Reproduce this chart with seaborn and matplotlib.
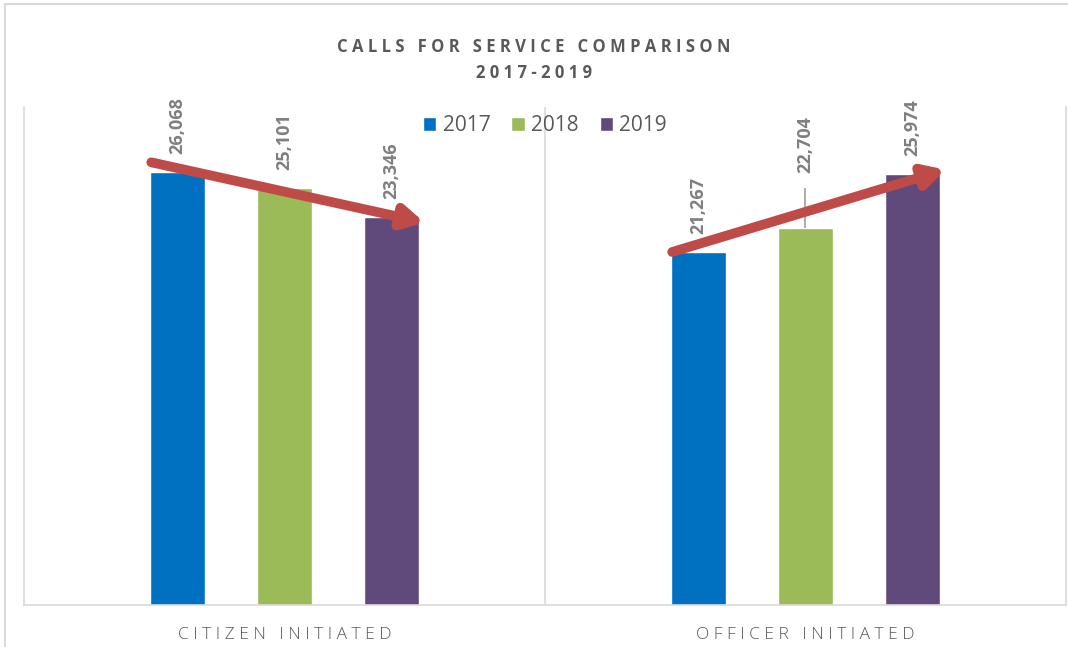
import seaborn as sns
import matplotlib.pyplot as plt
import pandas as pd

# data
categories = ["CITIZEN INITIATED", "OFFICER INITIATED"]
years = ["2017", "2018", "2019"]
calls_2017 = [26068, 21267]
calls_2018 = [25101, 22704]
calls_2019 = [23346, 25974]

colors = ["#0070C0", "#9BBB59", "#604A7B"]
grey_line = "#D9D9D9"
text_grey = "#595959"

df = pd.DataFrame({
    "category": categories * 3,
    "year": [y for y in years for _ in categories],
    "calls": calls_2017 + calls_2018 + calls_2019,
})

sns.set_theme(style="white")
plt.rcParams["font.family"] = ["Open Sans", "DejaVu Sans"]

fig = plt.figure(figsize=(10.68, 6.47), dpi=100)
ax = fig.add_axes([0.0225, 0.0649, 0.9755, 0.7697])

sns.barplot(data=df, x="category", y="calls", hue="year", palette=colors,
            width=0.616, gap=0.48, ax=ax, saturation=1, legend=True)

ax.set_ylim(0, 30000)
ax.set_xlim(-0.5, 1.5)
ax.set_yticks([])
ax.set_xlabel("")
ax.set_ylabel("")
ax.tick_params(axis="x", length=0, pad=16)
ax.set_xticks(range(len(categories)))
ax.set_xticklabels([" ".join(c.split(" ")[0]) + "   " + " ".join(c.split(" ")[1])
                    for c in categories],
                   fontsize=12.5, color=text_grey, fontweight="light")

for side in ["left", "right", "bottom"]:
    ax.spines[side].set_color(grey_line)
    ax.spines[side].set_linewidth(1.2)
ax.spines["top"].set_visible(False)
ax.axvline(0.5, color=grey_line, lw=1.2)

# value labels, rotated, above each bar
for i, cont in enumerate(ax.containers):
    for j, bar in enumerate(cont):
        val = bar.get_height()
        xc = bar.get_x() + bar.get_width() / 2
        off = 13
        if i == 1 and j == 1:
            # label moved up with a leader line
            off = 40
            ax.vlines(xc, val, val + 2400, color="#A6A6A6", lw=1.3)
        ax.annotate(f"{val:,.0f}", xy=(xc, val), xytext=(0, off),
                    textcoords="offset points", rotation=90, ha="center",
                    va="bottom", fontsize=13, fontweight="bold", color="#7F7F7F")

# trend arrows from the 2017 bar to the 2019 bar
for j in range(len(categories)):
    b0 = ax.containers[0][j]
    b2 = ax.containers[2][j]
    x0 = b0.get_x() + 0.003
    x1 = b2.get_x() + b2.get_width() + 0.01
    down = calls_2017[j] > calls_2019[j]
    y0 = calls_2017[j] + (600 if down else 0)
    y1 = calls_2019[j] + (-300 if down else 250)
    ax.annotate("", xy=(x1, y1), xytext=(x0, y0),
                arrowprops=dict(arrowstyle="-|>,head_length=1.0,head_width=0.55",
                                color="#BE4B48", lw=7, shrinkA=0, shrinkB=0))

leg = ax.legend(loc="upper center", bbox_to_anchor=(0.5, 1.0), ncol=3,
                frameon=False, fontsize=15, handlelength=0.65, handleheight=0.65,
                handletextpad=0.3, columnspacing=1.0, borderaxespad=0.0)
for t in leg.get_texts():
    t.set_color(text_grey)

fig.text(0.5, 0.928, "C A L L S   F O R   S E R V I C E   C O M P A R I S O N",
         ha="center", va="center", fontsize=12, fontweight="bold", color=text_grey)
fig.text(0.5, 0.887, "2 0 1 7 - 2 0 1 9", ha="center", va="center",
         fontsize=12, fontweight="bold", color=text_grey)

# outer chart border (top and left visible)
fig.add_artist(plt.Line2D([0.005, 1.0], [0.994, 0.994], color=grey_line, lw=1.5,
                          transform=fig.transFigure))
fig.add_artist(plt.Line2D([0.005, 0.005], [0.0, 0.994], color=grey_line, lw=1.5,
                          transform=fig.transFigure))

fig.savefig("out.png", dpi=100, facecolor="white")
